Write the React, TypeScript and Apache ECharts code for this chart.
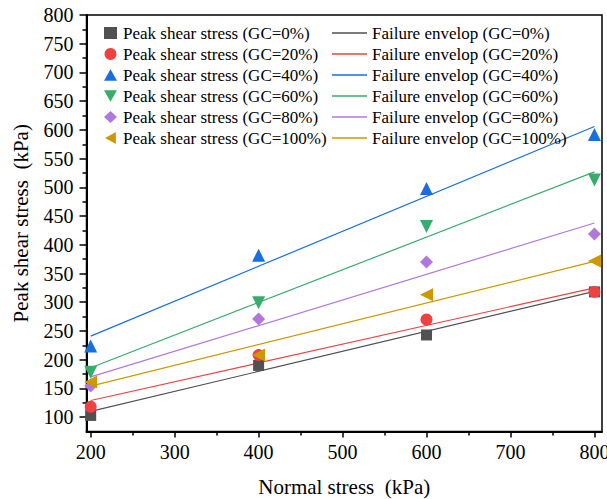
import React, { useEffect, useRef } from "react";
import * as echarts from "echarts";

const normalStress = [200, 400, 600, 800];
const gcLevels = ["0%", "20%", "40%", "60%", "80%", "100%"];
const peakGC0 = [103, 190, 243, 318];
const peakGC20 = [118, 208, 270, 318];
const peakGC40 = [224, 382, 498, 592];
const peakGC60 = [178, 299, 432, 513];
const peakGC80 = [154, 271, 370, 419];
const peakGC100 = [161, 208, 313, 372];
const envelopeX = [200, 800];
const envelopeGC0 = [110, 319];
const envelopeGC20 = [129, 325];
const envelopeGC40 = [241, 606];
const envelopeGC60 = [186, 527];
const envelopeGC80 = [170, 438];
const envelopeGC100 = [154, 371];
const xTicks = [200, 300, 400, 500, 600, 700, 800];
const xMinorTicks = [250, 350, 450, 550, 650, 750];
const yTicks = [100, 150, 200, 250, 300, 350, 400, 450, 500, 550, 600, 650, 700, 750, 800];
const yMinorTicks = [125, 175, 225, 275, 325, 375, 425, 475, 525, 575, 625, 675, 725, 775];

const colors = ["#515151", "#F14040", "#1A6FDF", "#37AD6B", "#B177DE", "#CC9900"];
const symbols = [
  "rect",
  "circle",
  "path://M5,0 L10,9 L0,9 Z",
  "path://M0,0 L10,0 L5,9 Z",
  "diamond",
  "path://M0,5 L9,0 L9,10 Z",
];
const sizes = [11, 12, 13, 13, 13, 13];

const FONT = "'Liberation Serif', 'Times New Roman', serif";

export default function App() {
  const ref = useRef<HTMLDivElement>(null);
  useEffect(() => {
    if (!ref.current) return;
    const chart = echarts.init(ref.current, null, { renderer: "svg" });
    const peaks = [peakGC0, peakGC20, peakGC40, peakGC60, peakGC80, peakGC100];
    const envs = [envelopeGC0, envelopeGC20, envelopeGC40, envelopeGC60, envelopeGC80, envelopeGC100];
    const scatterNames = gcLevels.map((g) => `Peak shear stress (GC=${g})`);
    const lineNames = gcLevels.map((g) => `Failure envelop (GC=${g})`);
    const series: any[] = [];
    envs.forEach((e, i) => {
      series.push({
        type: "line",
        name: lineNames[i],
        data: envelopeX.map((x, j) => [x, e[j]]),
        symbol: "none",
        lineStyle: { color: colors[i], width: 1.2 },
        itemStyle: { color: colors[i] },
        z: 2,
      });
    });
    peaks.forEach((p, i) => {
      series.push({
        type: "scatter",
        name: scatterNames[i],
        data: normalStress.map((x, j) => [x, p[j]]),
        symbol: symbols[i],
        symbolSize: sizes[i],
        itemStyle: { color: colors[i], opacity: 1 },
        z: 3,
      });
    });
    const axisFont = { fontFamily: FONT, fontSize: 20, color: "#000" };
    chart.setOption({
      animation: false,
      backgroundColor: "#fff",
      grid: {
        left: 86.5,
        right: 5,
        top: 15,
        bottom: 67.5,
        show: true,
        borderColor: "#000",
        borderWidth: 1.5,
        containLabel: false,
        outerBoundsMode: "none",
      },
      legend: [
        {
          data: scatterNames.map((n, i) => ({ name: n, icon: symbols[i], itemStyle: { color: colors[i] } })),
          orient: "vertical",
          left: 99,
          top: 17.5,
          itemWidth: 13,
          itemHeight: 12,
          itemGap: 0,
          textStyle: { fontFamily: FONT, fontSize: 17, color: "#000", lineHeight: 21, padding: [0, 0, 0, 1] },
        },
        {
          data: lineNames.map((n, i) => ({ name: n, icon: "rect", itemStyle: { color: colors[i] } })),
          orient: "vertical",
          left: 327,
          top: 17.5,
          itemWidth: 35,
          itemHeight: 1.3,
          itemGap: 0,
          textStyle: { fontFamily: FONT, fontSize: 17, color: "#000", lineHeight: 21 },
        },
      ],
      xAxis: [
        {
          type: "value",
          min: 195,
          max: 809,
          name: "Normal stress  (kPa)",
          nameLocation: "middle",
          nameGap: 45,
          nameTextStyle: { fontFamily: FONT, fontSize: 21, color: "#000" },
          axisLine: { show: true, lineStyle: { color: "#000", width: 2 } },
          axisTick: { show: true, inside: false, length: 6, customValues: xTicks, lineStyle: { color: "#000", width: 1.5 } },
          axisLabel: { ...axisFont, margin: 10, customValues: xTicks },
          splitLine: { show: false },
        },
        {
          type: "value",
          min: 195,
          max: 809,
          position: "bottom",
          axisLine: { show: false },
          axisTick: { show: true, inside: false, length: 4, customValues: xMinorTicks, lineStyle: { color: "#000", width: 1.5 } },
          axisLabel: { show: false },
          splitLine: { show: false },
        },
      ],
      yAxis: [
        {
          type: "value",
          min: 75,
          max: 800,
          name: "Peak shear stress  (kPa)",
          nameLocation: "middle",
          nameGap: 55,
          nameTextStyle: { fontFamily: FONT, fontSize: 21, color: "#000" },
          axisLine: { show: true, lineStyle: { color: "#000", width: 2 } },
          axisTick: { show: true, inside: false, length: 7, customValues: yTicks, lineStyle: { color: "#000", width: 1.5 } },
          axisLabel: { ...axisFont, margin: 13, customValues: yTicks },
          splitLine: { show: false },
        },
        {
          type: "value",
          min: 75,
          max: 800,
          position: "left",
          axisLine: { show: false },
          axisTick: { show: true, inside: false, length: 4, customValues: yMinorTicks, lineStyle: { color: "#000", width: 1.5 } },
          axisLabel: { show: false },
          splitLine: { show: false },
        },
      ],
      series,
    });
    return () => chart.dispose();
  }, []);
  return <div ref={ref} style={{ position: "fixed", left: 0, top: 0, width: 607, height: 499 }} />;
}
